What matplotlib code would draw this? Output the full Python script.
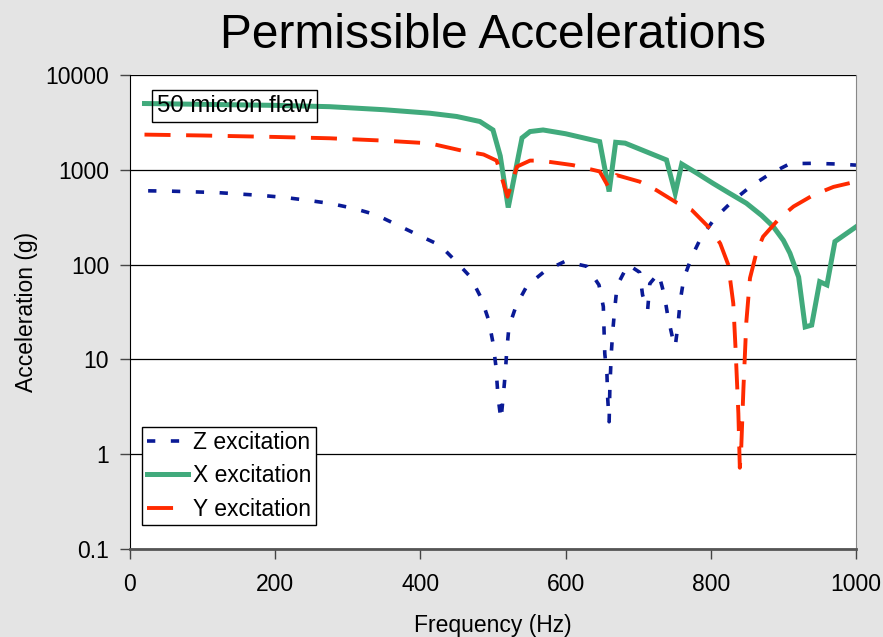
import matplotlib.pyplot as plt
import numpy as np

plt.rcParams['font.family'] = ['Liberation Sans', 'DejaVu Sans']

# Z excitation (blue dotted)
z_freq = [25, 57, 88, 120, 151, 183, 214, 246, 277, 309, 339, 397, 427, 448, 469,
          484, 494, 500, 504, 507, 511, 514, 517, 519, 522, 532, 547, 572, 599, 629,
          646, 652, 653, 654, 657, 658, 660, 661, 663, 665, 668, 671, 686, 702, 706,
          713, 716, 728, 736, 741, 748, 751, 755, 758, 763, 774, 787, 806, 829, 854,
          882, 909, 940, 975, 1000]
z_acc = [600, 595, 585, 575, 555, 535, 510, 475, 440, 390, 335, 205, 160, 110, 74,
         44, 26, 15, 8.5, 4.0, 2.3, 4.0, 7.2, 12.5, 22, 37, 60, 86, 108, 96,
         61, 36, 20, 11.5, 6.9, 3.9, 2.2, 5.0, 11.7, 20, 36, 60, 100, 83, 48,
         33, 63, 81, 48, 28, 16, 13.6, 24, 42, 72, 122, 196, 310, 460, 660,
         910, 1160, 1170, 1150, 1120]

# X excitation (green solid)
x_freq = [20, 100, 200, 275, 350, 413, 450, 482, 500, 510, 521, 540, 551, 569, 600,
          647, 660, 669, 682, 739, 751, 760, 780, 803, 825, 849, 870, 886, 900, 909,
          921, 930, 939, 950, 960, 971, 1000]
x_acc = [5000, 4900, 4780, 4630, 4300, 3950, 3650, 3230, 2630, 1400, 400, 2170, 2530, 2630, 2400,
         1980, 590, 1950, 1910, 1270, 565, 1150, 930, 720, 570, 444, 330, 252, 180, 132,
         74, 22, 23, 66, 61, 175, 250]

# Y excitation (red dashed)
y_freq = [20, 100, 200, 275, 350, 413, 459, 487, 505, 520, 533, 551, 565, 610, 647,
          659, 670, 702, 725, 753, 774, 799, 813, 824, 831, 834, 838, 840, 842, 845,
          849, 854, 863, 872, 895, 914, 941, 969, 1000]
y_acc = [2350, 2300, 2220, 2150, 2030, 1900, 1580, 1450, 1250, 520, 1080, 1250, 1250, 1120, 960,
         660, 880, 750, 610, 450, 375, 240, 167, 100, 39, 13.6, 2.7, 0.72, 1.2, 5.0,
         25, 72, 135, 197, 310, 410, 540, 660, 750]

fig = plt.figure(figsize=(8.83, 6.37), dpi=100, facecolor='#e4e4e4')
ax = fig.add_axes([0.1472, 0.1381, 0.8222, 0.7442])
ax.set_facecolor('white')

ax.plot(z_freq, z_acc, color='#0a1a96', lw=2.6, dashes=(2.3, 4.3),
        dash_capstyle='butt', label='Z excitation')
ax.plot(x_freq, x_acc, color='#41aa7c', lw=3.6, solid_joinstyle='miter',
        label='X excitation')
ax.plot(y_freq, y_acc, color='#ff2a00', lw=2.8, dashes=(6.7, 4.0),
        dash_capstyle='butt', label='Y excitation')

ax.set_yscale('log')
ax.set_ylim(0.1, 10000)
ax.set_xlim(0, 1000)
yt = [0.1, 1, 10, 100, 1000, 10000]
ax.set_yticks(yt)
ax.set_yticklabels(['0.1', '1', '10', '100', '1000', '10000'])
ax.yaxis.set_minor_locator(plt.NullLocator())
ax.set_xticks([0, 200, 400, 600, 800, 1000])
ax.grid(axis='y', which='major', color='black', lw=0.9)
ax.tick_params(axis='both', labelsize=16.5, direction='out', length=7, width=1,
               color='#444444', pad=8)
ax.tick_params(axis='x', pad=10)

ax.spines['top'].set_visible(False)
ax.spines['left'].set_color('black')
ax.spines['bottom'].set_color('#555555')
ax.spines['bottom'].set_linewidth(2)
ax.spines['right'].set_color('#888888')

ax.set_xlabel('Frequency (Hz)', fontsize=16.5, labelpad=13)
ax.set_ylabel('Acceleration (g)', fontsize=16.5, labelpad=5)
fig.text(0.558, 0.944, 'Permissible Accelerations', fontsize=34.5,
         ha='center', va='center')

ax.text(0.037, 0.935, '50 micron flaw', transform=ax.transAxes, fontsize=17.3,
        va='center', ha='left',
        bbox=dict(boxstyle='square,pad=0.2', facecolor='none', edgecolor='black', lw=1))

leg = ax.legend(loc='lower left', bbox_to_anchor=(0.017, 0.05), fontsize=16.5,
                frameon=True, fancybox=False, edgecolor='black', framealpha=1,
                borderpad=0.2, labelspacing=0.45, handlelength=1.8, handletextpad=0.2,
                borderaxespad=0)
leg.get_frame().set_linewidth(1)

fig.savefig('out.png', dpi=100, facecolor=fig.get_facecolor())
